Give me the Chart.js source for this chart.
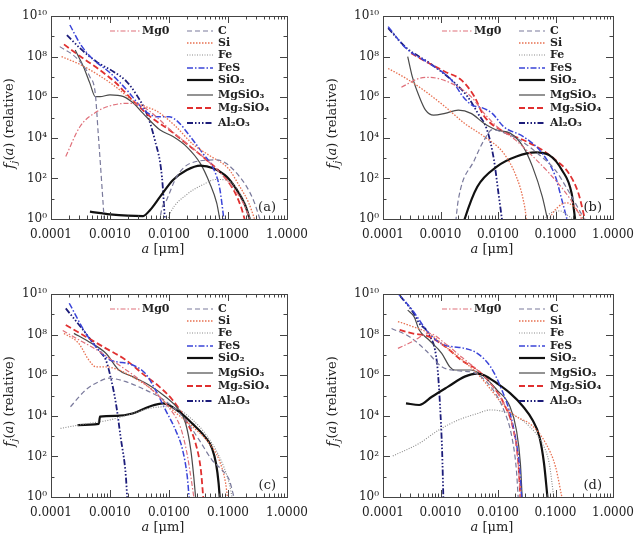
<!DOCTYPE html>
<html>
<head>
<meta charset="utf-8">
<script src="https://cdn.jsdelivr.net/npm/chart.js@4.4.0/dist/chart.umd.min.js"></script>
<style>
  body { margin: 0; background: #fff; }
  .panel { position: absolute; }
</style>
</head>
<body>
<div class="panel" style="left:0;top:0"><canvas id="pa" width="321" height="268"></canvas></div>
<div class="panel" style="left:321px;top:0"><canvas id="pb" width="322" height="268"></canvas></div>
<div class="panel" style="left:0;top:268px"><canvas id="pc" width="321" height="269"></canvas></div>
<div class="panel" style="left:321px;top:268px"><canvas id="pd" width="322" height="269"></canvas></div>
<script>
// grain species, same order in every panel
const species = ['Mg0', 'C', 'Si', 'Fe', 'FeS', 'SiO₂', 'MgSiO₃', 'Mg₂SiO₄', 'Al₂O₃'];
const xTicks = [1e-4, 1e-3, 1e-2, 1e-1, 1];
const yTicks = [1, 1e2, 1e4, 1e6, 1e8, 1e10];

// [a (um), f(a)] pairs, null = curve below the plot

// panel (a)
const aMgO = [[1.78e-4, 1.2e3], [3.09e-4, 3.5e4], [5.89e-4, 1.9e5], [1.15e-3, 4.2e5], [2.19e-3, 5.0e5], [3.55e-3, 3.5e5], [6.31e-3, 1.0e5], [1.0e-2, 2.8e4], [2.0e-2, 5.4e3], [4.37e-2, 7.9e2], [9.55e-2, 83], [0.182, 5.9], [0.234, 1]];
const aC = [[1.41e-4, 3.1e8], [2.75e-4, 8.1e7], [4.57e-4, 1.0e7], [5.62e-4, 1.6e6], [6.31e-4, 1.7e4], [7.24e-4, 58], [7.94e-4, 1], [8.3e-4, 0.1], [2.0e-3, null], [6.76e-3, 0.1], [7.08e-3, 1], [9.12e-3, 8.7], [1.35e-2, 1.2e2], [2.29e-2, 5.5e2], [6.46e-2, 8.1e2], [0.158, 1.2e2], [0.269, 8.7], [0.347, 1]];
const aSi = [[1.51e-4, 1.0e8], [3.16e-4, 4.0e7], [6.31e-4, 1.26e7], [1.26e-3, 3.2e6], [2.51e-3, 6.3e5], [3.98e-3, 3.5e5], [6.31e-3, 2.0e5], [1.26e-2, 4.0e4], [2.51e-2, 5.0e3], [5.01e-2, 1.26e3], [0.1, 3.2e2], [0.158, 40], [0.224, 6.3], [0.282, 1]];
const aFe = [[8.91e-3, 0.5], [1.05e-2, 2.0], [2.0e-2, 16], [3.8e-2, 50], [6.31e-2, 89], [0.1, 79], [0.141, 32], [0.191, 6.3], [0.24, 1]];
const aFeS = [[2.09e-4, 3.6e9], [3.16e-4, 4.0e8], [5.01e-4, 7.9e7], [1.0e-3, 1.6e7], [2.0e-3, 2.0e6], [3.16e-3, 4.0e5], [4.47e-3, 1.6e5], [6.31e-3, 1.1e5], [1.0e-2, 1.1e5], [1.41e-2, 6.3e4], [2.24e-2, 1.26e4], [3.8e-2, 1.6e3], [5.62e-2, 3.2e2], [7.24e-2, 32], [8.51e-2, 1]];
const aSiO2 = [[4.57e-4, 2.3], [1.0e-3, 1.7], [3.63e-3, 1.4], [4.79e-3, 2.8], [7.08e-3, 12.6], [1.17e-2, 83], [2.0e-2, 2.6e2], [3.39e-2, 4.3e2], [5.62e-2, 3.2e2], [9.55e-2, 1.2e2], [0.141, 27], [0.195, 4.9], [0.234, 1]];
const aMgSiO3 = [[2.57e-4, 2.1e8], [3.55e-4, 3.2e7], [4.57e-4, 4.8e6], [5.62e-4, 1.07e6], [6.76e-4, 1.07e6], [1.0e-3, 1.3e6], [1.7e-3, 1.07e6], [2.51e-3, 5.0e5], [3.63e-3, 1.6e5], [7.08e-3, 2.4e4], [1.17e-2, 1.15e4], [2.0e-2, 3.6e3], [3.39e-2, 5.5e2], [4.9e-2, 58], [6.46e-2, 5.9], [7.24e-2, 1]];
const aMg2SiO4 = [[1.66e-4, 4.0e8], [3.16e-4, 1.0e8], [6.31e-4, 2.5e7], [1.26e-3, 5.0e6], [2.51e-3, 6.3e5], [5.01e-3, 1.0e5], [1.0e-2, 2.5e4], [2.0e-2, 5.0e3], [3.98e-2, 1.0e3], [7.94e-2, 1.6e2], [0.126, 25], [0.166, 4.0], [0.191, 1]];
const aAl2O3 = [[1.86e-4, 1.15e9], [3.09e-4, 2.6e8], [5.89e-4, 5.6e7], [1.15e-3, 1.8e7], [1.91e-3, 5.9e6], [2.82e-3, 1.3e6], [4.17e-3, 1.6e5], [5.75e-3, 7.8e3], [7.59e-3, 1.2e2], [8.51e-3, 1]];

// panel (b)
const bMgO = [[2.09e-4, 3.1e6], [4.27e-4, 8.5e6], [6.31e-4, 9.5e6], [1.55e-3, 4.8e6], [3.39e-3, 1.07e6], [5.75e-3, 1.6e5], [1.0e-2, 3.2e4], [2.0e-2, 7.9e3], [3.98e-2, 1.26e3], [7.76e-2, 1.8e2], [0.141, 25], [0.219, 4.0], [0.282, 1]];
const bC = [[1.78e-3, 0.3], [2.04e-3, 8.7], [3.89e-3, 8.1e2], [5.75e-3, 7.8e3], [7.94e-3, 2.5e4], [1.26e-2, 1.8e4], [2.51e-2, 7.1e3], [5.01e-2, 1.6e3], [0.1, 2.5e2], [0.158, 32], [0.251, 3.2], [0.316, 1]];
const bSi = [[1.23e-4, 2.6e7], [2.51e-4, 8.5e6], [5.5e-4, 1.9e6], [1.2e-3, 3.4e5], [2.63e-3, 5.1e4], [5.75e-3, 1.15e4], [1.26e-2, 1.7e3], [2.09e-2, 1.2e2], [2.75e-2, 8.7], [3.09e-2, 1], [3.24e-2, 0.1], [5.0e-2, null], [7.08e-2, 0.3], [7.94e-2, 1], [0.112, 4.0], [0.158, 6.3], [0.224, 3.2], [0.302, 1]];
const bFe = [[5.62e-2, 0.3], [6.61e-2, 1], [8.91e-2, 2.2], [0.12, 2.5], [0.158, 1.6], [0.2, 1]];
const bFeS = [[1.23e-4, 3.0e9], [2.51e-4, 2.6e8], [6.31e-4, 4.7e7], [1.55e-3, 7.1e6], [2.51e-3, 1.0e6], [3.55e-3, 4.0e5], [5.01e-3, 3.2e5], [7.94e-3, 1.6e5], [1.26e-2, 3.5e4], [2.75e-2, 1.15e4], [5.89e-2, 1.7e3], [0.1, 1.2e2], [0.129, 8.7], [0.158, 1]];
const bSiO2 = [[2.34e-3, 0.3], [2.63e-3, 1], [4.37e-3, 39], [9.55e-3, 3.8e2], [2.09e-2, 1.2e3], [4.57e-2, 1.9e3], [7.76e-2, 1.4e3], [0.129, 2.6e2], [0.191, 18], [0.219, 1]];
const bMgSiO3 = [[2.69e-4, 1.0e8], [3.24e-4, 1.0e7], [4.27e-4, 1.07e6], [5.5e-4, 2.3e5], [7.59e-4, 1.3e5], [1.2e-3, 1.6e5], [2.04e-3, 2.3e5], [3.39e-3, 1.6e5], [5.75e-3, 5.1e4], [9.55e-3, 2.4e4], [1.62e-2, 1.7e4], [2.75e-2, 3.6e3], [3.98e-2, 3.8e2], [5.89e-2, 12.6], [7.24e-2, 1]];
const bMg2SiO4 = [[3.09e-4, 1.45e8], [6.31e-4, 4.7e7], [1.2e-3, 1.8e7], [2.29e-3, 7.1e6], [3.89e-3, 1.07e6], [5.62e-3, 1.26e5], [1.26e-2, 2.0e4], [2.75e-2, 7.8e3], [5.89e-2, 2.5e3], [0.1, 8.1e2], [0.17, 1.8e2], [0.251, 18], [0.324, 1]];
const bAl2O3 = [[1.23e-4, 2.5e9], [2.51e-4, 2.8e8], [6.31e-4, 5.0e7], [1.55e-3, 7.1e6], [2.95e-3, 1.07e6], [4.47e-3, 1.6e5], [6.46e-3, 2.4e4], [8.51e-3, 8.1e2], [1.02e-2, 18], [1.17e-2, 1]];

// panel (c)
const cMgO = [[1.58e-4, 1.6e8], [3.16e-4, 5.0e7], [6.31e-4, 1.6e7], [1.26e-3, 4.0e6], [2.51e-3, 1.0e6], [5.01e-3, 2.0e5], [1.0e-2, 2.5e4], [1.58e-2, 2.5e3], [2.0e-2, 1.6e2], [2.4e-2, 6.3], [2.63e-2, 1]];
const cC = [[2.14e-4, 2.8e4], [3.89e-4, 1.9e5], [6.46e-4, 4.8e5], [9.55e-4, 7.1e5], [1.86e-3, 4.8e5], [3.55e-3, 2.2e5], [6.76e-3, 8.7e4], [1.15e-2, 2.8e4], [1.91e-2, 6.2e3], [3.24e-2, 6.5e2], [5.37e-2, 66], [7.94e-2, 21], [0.105, 6.9], [0.126, 1]];
const cSi = [[1.66e-4, 1.15e8], [2.95e-4, 3.7e7], [4.37e-4, 5.6e6], [5.75e-4, 2.6e6], [8.51e-4, 2.6e6], [1.41e-3, 1.8e6], [2.82e-3, 6.3e5], [5.25e-3, 1.9e5], [1.15e-2, 1.95e4], [2.51e-2, 2.9e3], [4.79e-2, 4.4e2], [7.08e-2, 66], [9.12e-2, 4.7], [9.77e-2, 1]];
const cFe = [[1.45e-4, 2.4e3], [2.95e-4, 3.5e3], [1.0e-3, 6.3e3], [2.4e-3, 1.3e4], [4.57e-3, 2.3e4], [8.71e-3, 2.8e4], [1.48e-2, 2.0e4], [2.51e-2, 6.3e3], [4.17e-2, 1.26e3], [7.08e-2, 1.0e2], [0.105, 4.7], [0.117, 1]];
const cFeS = [[2.04e-4, 3.5e9], [3.89e-4, 1.15e8], [6.46e-4, 1.7e7], [1.0e-3, 5.6e6], [1.26e-3, 4.7e6], [2.4e-3, 3.2e6], [3.98e-3, 1.2e6], [5.89e-3, 1.9e5], [8.71e-3, 1.95e4], [1.29e-2, 2.0e3], [1.7e-2, 2.1e2], [2.04e-2, 10], [2.19e-2, 1]];
const cSiO2 = [[2.82e-4, 3.5e3], [6.46e-4, 4.0e3], [6.76e-4, 9.1e3], [1.26e-3, 1.0e4], [2.4e-3, 1.3e4], [4.57e-3, 2.8e4], [7.94e-3, 4.1e4], [1.48e-2, 1.6e4], [2.51e-2, 4.0e3], [3.98e-2, 1.0e3], [5.37e-2, 2.5e2], [6.31e-2, 40], [6.92e-2, 5], [7.24e-2, 1]];
const cMgSiO3 = [[2.45e-4, 1.15e8], [4.37e-4, 4.5e7], [8.51e-4, 1.2e7], [1.41e-3, 1.8e6], [2.4e-3, 8.5e5], [4.57e-3, 3.3e5], [8.71e-3, 8.7e4], [1.48e-2, 1.95e4], [1.91e-2, 4.3e3], [2.34e-2, 2.1e2], [2.63e-2, 10], [2.82e-2, 1]];
const cMg2SiO4 = [[1.78e-4, 3.0e8], [3.89e-4, 7.9e7], [8.51e-4, 2.1e7], [1.86e-3, 5.6e6], [3.55e-3, 1.2e6], [6.76e-3, 2.8e5], [1.15e-2, 6.0e4], [1.91e-2, 6.2e3], [2.82e-2, 4.4e2], [3.47e-2, 21], [3.8e-2, 1]];
const cAl2O3 = [[1.78e-4, 1.95e9], [3.89e-4, 1.15e8], [6.46e-4, 1.7e7], [8.51e-4, 5.6e6], [1.02e-3, 8.5e5], [1.26e-3, 4.1e4], [1.51e-3, 9.3e2], [1.86e-3, 10], [1.95e-3, 1]];

// panel (d)
const dMgO = [[1.82e-4, 2.1e7], [3.24e-4, 4.5e7], [6.31e-4, 1.15e8], [1.2e-3, 3.7e7], [2.29e-3, 8.1e6], [4.37e-3, 1.8e6], [7.41e-3, 4.0e5], [1.26e-2, 4.1e4], [1.86e-2, 2.0e3], [2.24e-2, 46], [2.45e-2, 1]];
const dC = [[1.41e-4, 2.0e8], [2.88e-4, 7.9e7], [5.5e-4, 1.7e7], [1.05e-3, 2.6e6], [1.55e-3, 1.8e6], [2.29e-3, 1.6e6], [3.98e-3, 1.26e6], [7.41e-3, 2.8e5], [1.26e-2, 1.95e4], [1.74e-2, 9.3e2], [2.09e-2, 21], [2.24e-2, 1]];
const dSi = [[1.82e-4, 4.4e8], [3.24e-4, 2.5e8], [6.31e-4, 1.15e8], [1.2e-3, 2.6e7], [2.51e-3, 5.0e6], [5.01e-3, 7.9e5], [7.94e-3, 1.6e5], [1.26e-2, 3.2e4], [2.0e-2, 1.0e4], [3.98e-2, 3.2e3], [6.76e-2, 4.4e2], [0.1, 31], [0.129, 1]];
const dFe = [[1.48e-4, 1.05e2], [4.27e-4, 4.4e2], [9.33e-4, 2.0e3], [2.04e-3, 6.2e3], [4.37e-3, 1.3e4], [7.41e-3, 1.95e4], [1.26e-2, 1.6e4], [2.09e-2, 9.1e3], [3.55e-2, 2.9e3], [5.89e-2, 4.4e2], [7.76e-2, 46], [9.33e-2, 1]];
const dFeS = [[1.82e-4, 1.07e10], [3.24e-4, 1.6e9], [6.31e-4, 1.15e8], [1.12e-3, 3.2e7], [1.55e-3, 2.6e7], [2.63e-3, 2.1e7], [4.37e-3, 1.2e7], [7.41e-3, 2.6e6], [1.1e-2, 2.8e5], [1.62e-2, 1.3e4], [2.09e-2, 4.4e2], [2.4e-2, 21], [2.57e-2, 1]];
const dSiO2 = [[2.51e-4, 4.1e4], [4.27e-4, 3.4e4], [7.08e-4, 8.7e4], [1.38e-3, 2.8e5], [2.63e-3, 8.5e5], [4.37e-3, 1.2e6], [5.75e-3, 1.0e6], [9.55e-3, 4.0e5], [1.62e-2, 1.3e5], [2.75e-2, 2.8e4], [3.98e-2, 6.2e3], [5.25e-2, 9.3e2], [6.31e-2, 46], [7.24e-2, 1]];
const dMgSiO3 = [[2.69e-4, 1.6e9], [3.47e-4, 7.6e8], [4.27e-4, 1.7e8], [6.31e-4, 5.4e7], [1.05e-3, 1.2e7], [1.45e-3, 2.6e6], [1.78e-3, 1.8e6], [3.39e-3, 1.8e6], [5.75e-3, 8.5e5], [9.55e-3, 1.9e5], [1.62e-2, 2.8e4], [2.09e-2, 2.0e3], [2.45e-2, 46], [2.63e-2, 1]];
const dMg2SiO4 = [[1.95e-4, 1.7e8], [3.24e-4, 1.15e8], [6.31e-4, 7.9e7], [1.2e-3, 2.6e7], [2.29e-3, 5.6e6], [4.37e-3, 1.8e6], [7.41e-3, 4.0e5], [1.26e-2, 4.1e4], [1.86e-2, 2.0e3], [2.24e-2, 66], [2.45e-2, 1]];
const dAl2O3 = [[2.0e-4, 7.9e9], [3.24e-4, 1.4e9], [4.27e-4, 3.6e8], [6.31e-4, 1.0e8], [8.71e-4, 3.8e6], [9.77e-4, 4.1e4], [1.07e-3, 1.4e2], [1.12e-3, 1]];

// line look of each species
const lineStyles = [
  { color: '#e0707a', width: 1.2, dash: [5, 2, 1.5, 2] },
  { color: '#7a7a9c', width: 1.2, dash: [5, 3] },
  { color: '#e87050', width: 1.3, dash: [1.5, 1.5] },
  { color: '#8a8a8a', width: 1.1, dash: [1, 1.5] },
  { color: '#3a44d8', width: 1.5, dash: [6, 2, 1.5, 2] },
  { color: '#111111', width: 2.2, dash: [] },
  { color: '#4a4a4a', width: 1.2, dash: [] },
  { color: '#e03030', width: 1.8, dash: [6, 3] },
  { color: '#1c1c7a', width: 1.8, dash: [6, 2, 1.5, 2, 1.5, 2, 1.5, 2] }
];

const SERIF = '"DejaVu Serif", "Liberation Serif", serif';
const supDigits = { '0': '⁰', '1': '¹', '2': '²', '4': '⁴', '6': '⁶', '8': '⁸' };
const legendRows = [15, 15, 27, 39, 52, 64, 79, 92, 107];

// box, inward ticks, axis titles, legend and panel tag (IDL look)
const deco = {
  id: 'deco',
  afterDraw(chart, args, opts) {
    const { ctx, chartArea: ca } = chart;
    const xs = chart.scales.x, ys = chart.scales.y;
    ctx.save();
    ctx.strokeStyle = '#444';
    ctx.lineWidth = 1;
    ctx.setLineDash([]);
    ctx.strokeRect(ca.left + 0.5, ca.top + 0.5, ca.width, ca.height);
    ctx.beginPath();
    for (let e = -4; e < 0; e++) {
      for (let m = 1; m < 10; m++) {
        if (e === -4 && m === 1) continue;
        const px = Math.round(xs.getPixelForValue(m * Math.pow(10, e))) + 0.5;
        const len = m === 1 ? 7 : 3.5;
        ctx.moveTo(px, ca.bottom); ctx.lineTo(px, ca.bottom - len);
        ctx.moveTo(px, ca.top); ctx.lineTo(px, ca.top + len);
      }
    }
    for (let e = 1; e < 10; e++) {
      const py = Math.round(ys.getPixelForValue(Math.pow(10, e))) + 0.5;
      const len = e % 2 === 0 ? 7 : 3.5;
      ctx.moveTo(ca.left, py); ctx.lineTo(ca.left + len, py);
      ctx.moveTo(ca.right, py); ctx.lineTo(ca.right - len, py);
    }
    ctx.stroke();

    // x title: a [um]
    ctx.fillStyle = '#222';
    ctx.textBaseline = 'middle';
    const xt = [['a', 'italic 13px ' + SERIF], [' [μm]', '13px ' + SERIF]];
    let w = 0;
    xt.forEach(p => { ctx.font = p[1]; w += ctx.measureText(p[0]).width; });
    let tx = (ca.left + ca.right) / 2 - 6 - w / 2;
    xt.forEach(p => { ctx.font = p[1]; ctx.fillText(p[0], tx, ca.bottom + 31); tx += ctx.measureText(p[0]).width; });

    // y title: f_j(a) (relative)
    ctx.save();
    ctx.translate(opts.ytx, (ca.top + ca.bottom) / 2 + 6);
    ctx.rotate(-Math.PI / 2);
    const yt = [['f', 'italic 14px ' + SERIF, 0], ['j', 'italic 10px ' + SERIF, 4], ['(', '13px ' + SERIF, 0],
                ['a', 'italic 13px ' + SERIF, 0], [') (relative)', '13px ' + SERIF, 0]];
    w = 0;
    yt.forEach(p => { ctx.font = p[1]; w += ctx.measureText(p[0]).width; });
    tx = -w / 2;
    yt.forEach(p => { ctx.font = p[1]; ctx.fillText(p[0], tx, p[2]); tx += ctx.measureText(p[0]).width; });
    ctx.restore();

    // legend
    chart.data.datasets.forEach((ds, i) => {
      const y = ca.top + legendRows[i];
      const x0 = i === 0 ? ca.left + 59 : ca.left + 136;
      const x1 = i === 0 ? ca.left + 89 : ca.left + 162;
      ctx.strokeStyle = ds.borderColor;
      ctx.lineWidth = ds.borderWidth;
      ctx.setLineDash(ds.borderDash);
      ctx.beginPath(); ctx.moveTo(x0, y); ctx.lineTo(x1, y); ctx.stroke();
      ctx.font = 'bold 11px ' + SERIF;
      ctx.fillStyle = '#222';
      ctx.fillText(ds.label, i === 0 ? ca.left + 91 : ca.left + 167, y);
    });

    // panel tag
    ctx.font = '13px ' + SERIF;
    ctx.textAlign = 'right';
    ctx.fillText(opts.tag, ca.right - 11, ca.bottom - 11);
    ctx.restore();
  }
};

function makePanel(id, series, box) {
  return new Chart(document.getElementById(id), {
    type: 'line',
    data: {
      datasets: species.map((name, i) => ({
        label: name,
        data: series[i].map(p => ({ x: p[0], y: p[1] })),
        borderColor: lineStyles[i].color,
        borderWidth: lineStyles[i].width,
        borderDash: lineStyles[i].dash,
        pointRadius: 0,
        fill: false,
        spanGaps: false,
        cubicInterpolationMode: 'monotone'
      }))
    },
    options: {
      responsive: false,
      animation: false,
      devicePixelRatio: 1,
      layout: { padding: { left: 0, top: box.top, right: box.right, bottom: 0 } },
      plugins: {
        legend: { display: false },
        tooltip: { enabled: false },
        deco: { tag: box.tag, ytx: box.ytx }
      },
      scales: {
        x: {
          type: 'logarithmic', min: 1e-4, max: 1,
          grid: { display: false, drawTicks: false },
          border: { display: false },
          afterBuildTicks: s => { s.ticks = xTicks.map(v => ({ value: v })); },
          afterFit: s => { s.height = box.xh; },
          ticks: {
            autoSkip: false, maxRotation: 0, minRotation: 0, padding: 9, color: '#222',
            font: { family: SERIF, size: 12 },
            callback: v => Number(v).toFixed(4)
          }
        },
        y: {
          type: 'logarithmic', min: 1, max: 1e10,
          grid: { display: false, drawTicks: false },
          border: { display: false },
          afterBuildTicks: s => { s.ticks = yTicks.map(v => ({ value: v })); },
          afterFit: s => { s.width = box.yw; },
          ticks: {
            autoSkip: false, padding: 4, color: '#222',
            font: { family: SERIF, size: 12 },
            callback: v => '10' + String(Math.round(Math.log10(v))).split('').map(d => supDigits[d]).join('')
          }
        }
      }
    },
    plugins: [deco]
  });
}

makePanel('pa', [aMgO, aC, aSi, aFe, aFeS, aSiO2, aMgSiO3, aMg2SiO4, aAl2O3],
  { top: 16, right: 34, yw: 51, xh: 49, tag: '(a)', ytx: 10 });
makePanel('pb', [bMgO, bC, bSi, bFe, bFeS, bSiO2, bMgSiO3, bMg2SiO4, bAl2O3],
  { top: 16, right: 24, yw: 62, xh: 49, tag: '(b)', ytx: 12 });
makePanel('pc', [cMgO, cC, cSi, cFe, cFeS, cSiO2, cMgSiO3, cMg2SiO4, cAl2O3],
  { top: 26, right: 34, yw: 51, xh: 40, tag: '(c)', ytx: 10 });
makePanel('pd', [dMgO, dC, dSi, dFe, dFeS, dSiO2, dMgSiO3, dMg2SiO4, dAl2O3],
  { top: 26, right: 24, yw: 62, xh: 40, tag: '(d)', ytx: 12 });
</script>
</body>
</html>
